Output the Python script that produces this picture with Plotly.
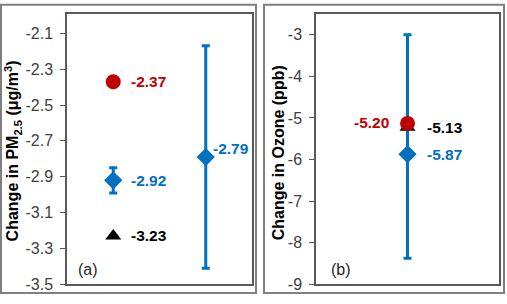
import plotly.graph_objects as go

W, H = 507, 304

# Panel (a): PM2.5
pm_circle_x = [1]
pm_circle_y = [-2.37]
pm_tri_x = [1]
pm_tri_y = [-3.23]
pm_dia_x = [1, 3]
pm_dia_y = [-2.92, -2.79]
pm_dia_err = [0.07, 0.62]
pm_label_x = [1, 1, 1, 3]
pm_label_y = [-2.37, -2.92, -3.23, -2.74]
pm_label_text = ["-2.37", "-2.92", "-3.23", "-2.79"]
pm_ticks = [-3.5, -3.3, -3.1, -2.9, -2.7, -2.5, -2.3, -2.1]

# Panel (b): Ozone
oz_circle_x = [1]
oz_circle_y = [-5.13]
oz_tri_x = [1]
oz_tri_y = [-5.22]
oz_dia_x = [1]
oz_dia_y = [-5.87]
oz_err_plus = [2.87]
oz_err_minus = [2.50]
oz_label_x = [1, 1, 1]
oz_label_y = [-5.12, -5.24, -5.87]
oz_label_text = ["-5.20", "-5.13", "-5.87"]
oz_ticks = [-9, -8, -7, -6, -5, -4, -3]

RED = "#C00000"
BLUE = "#0070C0"
FONT = "Liberation Sans, Arial, sans-serif"

# styles for labels (colour, side, pixel offset)
pm_label_style = [(RED, "left", 16), (BLUE, "left", 16), ("#000000", "left", 16), (BLUE, "left", 5)]
oz_label_style = [(RED, "right", -17), ("#000000", "left", 17), (BLUE, "left", 17)]

fig = go.Figure()

# Panel (a) traces
fig.add_trace(go.Scatter(x=pm_dia_x, y=pm_dia_y, mode="markers",
                         marker=dict(symbol="diamond", size=14, color=BLUE),
                         error_y=dict(type="data", array=pm_dia_err, color=BLUE, thickness=3, width=4),
                         xaxis="x", yaxis="y", showlegend=False))
fig.add_trace(go.Scatter(x=pm_circle_x, y=pm_circle_y, mode="markers",
                         marker=dict(symbol="circle", size=15, color=RED),
                         xaxis="x", yaxis="y", showlegend=False))
fig.add_trace(go.Scatter(x=pm_tri_x, y=pm_tri_y, mode="markers",
                         marker=dict(symbol="triangle-up", size=14, color="black"),
                         xaxis="x", yaxis="y", showlegend=False))

# Panel (b) traces
fig.add_trace(go.Scatter(x=oz_dia_x, y=oz_dia_y, mode="markers",
                         marker=dict(symbol="diamond", size=14, color=BLUE),
                         error_y=dict(type="data", array=oz_err_plus, arrayminus=oz_err_minus,
                                      color=BLUE, thickness=3, width=4),
                         xaxis="x2", yaxis="y2", showlegend=False))
fig.add_trace(go.Scatter(x=oz_tri_x, y=oz_tri_y, mode="markers",
                         marker=dict(symbol="triangle-up", size=14, color="black"),
                         xaxis="x2", yaxis="y2", showlegend=False))
fig.add_trace(go.Scatter(x=oz_circle_x, y=oz_circle_y, mode="markers",
                         marker=dict(symbol="circle", size=15, color=RED),
                         xaxis="x2", yaxis="y2", showlegend=False))

annotations = []
for x, y, t, (c, side, sh) in zip(pm_label_x, pm_label_y, pm_label_text, pm_label_style):
    annotations.append(dict(x=x, y=y, xref="x", yref="y", text="<b>%s</b>" % t, showarrow=False,
                            xanchor=side, yanchor="middle", xshift=sh,
                            font=dict(family=FONT, size=15.5, color=c)))
for x, y, t, (c, side, sh) in zip(oz_label_x, oz_label_y, oz_label_text, oz_label_style):
    annotations.append(dict(x=x, y=y, xref="x2", yref="y2", text="<b>%s</b>" % t, showarrow=False,
                            xanchor=side, yanchor="middle", xshift=sh,
                            font=dict(family=FONT, size=15.5, color=c)))

# panel letters
annotations.append(dict(x=88 / W, y=1 - 278 / H, xref="paper", yref="paper", text="(a)",
                        xanchor="center", yanchor="middle",
                        showarrow=False, font=dict(family=FONT, size=16, color="#262626")))
annotations.append(dict(x=341 / W, y=1 - 278 / H, xref="paper", yref="paper", text="(b)",
                        xanchor="center", yanchor="middle",
                        showarrow=False, font=dict(family=FONT, size=16, color="#262626")))
# axis titles
annotations.append(dict(x=13 / W, y=1 - 156 / H, xref="paper", yref="paper",
                        xanchor="center", yanchor="middle",
                        text="<b>Change in PM<sub>2.5</sub> (μg/m<sup>3</sup>)</b>", textangle=-90,
                        showarrow=False, font=dict(family=FONT, size=16, color="#000000")))
annotations.append(dict(x=278 / W, y=1 - 158 / H, xref="paper", yref="paper",
                        xanchor="center", yanchor="middle",
                        text="<b>Change in Ozone (ppb)</b>", textangle=-90,
                        showarrow=False, font=dict(family=FONT, size=16, color="#000000")))

frame = dict(type="rect", xref="paper", yref="paper", line=dict(color="#7f7f7f", width=2), layer="below")
shapes = [
    dict(frame, x0=1 / W, x1=256 / W, y0=1 - 302 / H, y1=1 - 5 / H),
    dict(frame, x0=264 / W, x1=504 / W, y0=1 - 302 / H, y1=1 - 5 / H),
]

axis_common = dict(showgrid=False, zeroline=False, showline=True, mirror=True,
                   linecolor="#595959", linewidth=1.5)

fig.update_layout(
    width=W, height=H,
    margin=dict(l=0, r=0, t=0, b=0),
    paper_bgcolor="white", plot_bgcolor="white",
    font=dict(family=FONT),
    xaxis=dict(domain=[67 / W, 252 / W], range=[0, 4], showticklabels=False, ticks="", **axis_common),
    yaxis=dict(domain=[1 - 293 / H, 1 - 14 / H], range=[-3.5, -1.99], tickvals=pm_ticks,
               ticktext=["%.1f" % v for v in pm_ticks], ticks="outside", ticklen=5, tickcolor="#595959",
               tickfont=dict(family=FONT, size=16, color="#404040"), ticklabelstandoff=4, **axis_common),
    xaxis2=dict(domain=[316 / W, 499 / W], range=[0, 2], showticklabels=False, ticks="",
                anchor="y2", **axis_common),
    yaxis2=dict(domain=[1 - 293 / H, 1 - 14 / H], range=[-9, -2.49], tickvals=oz_ticks,
                ticktext=["%d" % v for v in oz_ticks], ticks="outside", ticklen=5, tickcolor="#595959",
                tickfont=dict(family=FONT, size=16, color="#404040"), ticklabelstandoff=4,
                anchor="x2", **axis_common),
    annotations=annotations,
    shapes=shapes,
)

fig.write_html("out.html")
